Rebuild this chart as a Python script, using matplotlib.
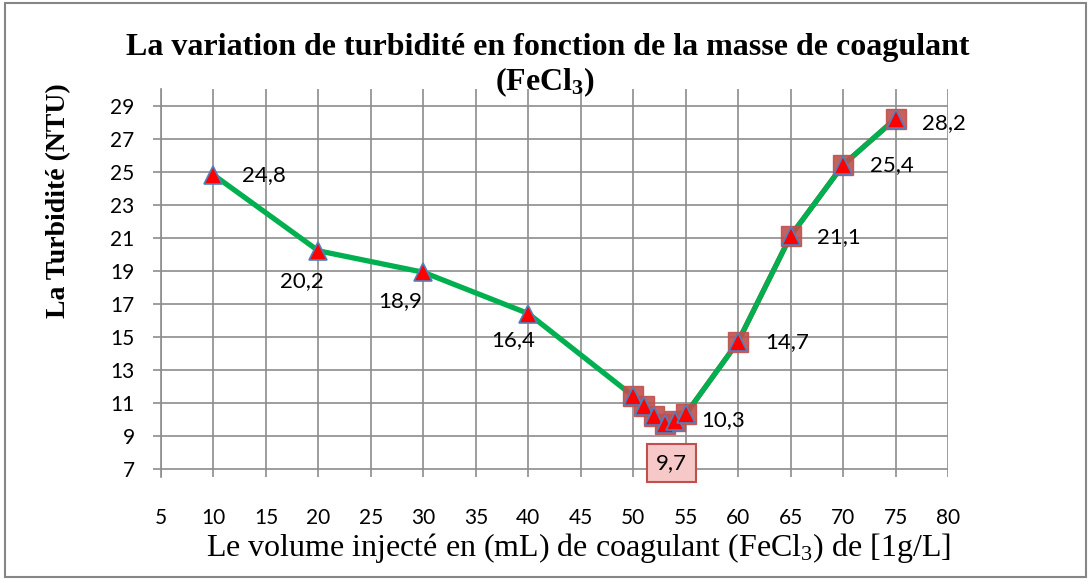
import matplotlib
matplotlib.use('Agg')
from matplotlib import pyplot as plt
from matplotlib.patches import Rectangle

# donnees
volume = [10, 20, 30, 40, 50, 51, 52, 53, 54, 55, 60, 65, 70, 75]
turbidite = [24.8, 20.2, 18.9, 16.4, 11.4, 10.8, 10.2, 9.7, 9.9, 10.3, 14.7, 21.1, 25.4, 28.2]
volume2 = [50, 51, 52, 53, 54, 55, 60, 65, 70, 75]
turbidite2 = [11.4, 10.8, 10.2, 9.7, 9.9, 10.3, 14.7, 21.1, 25.4, 28.2]

# etiquettes affichees : (indice, decalage en points)
etiquettes = {0: (36, 0), 1: (-12, -22), 2: (-17, -21), 3: (-11, -19),
              9: (27, -4), 10: (35, 0), 11: (35, -1), 12: (35, 0), 13: (35, -3)}

plt.rcParams['mathtext.default'] = 'regular'
chiffres = 'Lato'
serif = 'Liberation Serif'
gris = '#8c8c8c'

fig = plt.figure(figsize=(10.91, 5.8), dpi=100)
ax = fig.add_axes([161 / 1091, 1 - 477 / 580, (948 - 161) / 1091, (477 - 89) / 580])

ax.plot(volume2, turbidite2, color='#ff0000', lw=3.6, zorder=2)
ax.plot(volume, turbidite, color='#00b050', lw=3.8, zorder=3)
ax.plot(volume2, turbidite2, ls='none', marker='s', ms=14, mfc='#c0504d', mec='#c0504d',
        alpha=0.9, zorder=4)
ax.plot(volume, turbidite, ls='none', marker='^', ms=13.5, mfc='#ff0000', mec='#4f81bd',
        mew=1.2, zorder=5)

for i, (dx, dy) in etiquettes.items():
    ax.annotate(str(turbidite[i]).replace('.', ','), (volume[i], turbidite[i]),
                xytext=(dx, dy), textcoords='offset points', ha='center', va='center',
                fontsize=16, family=chiffres, zorder=6)

# le minimum dans un cadre
ax.annotate('9,7', (volume[7], turbidite[7]), xytext=(5, -28), textcoords='offset points',
            ha='center', va='center', fontsize=16, family=chiffres, zorder=7,
            bbox=dict(boxstyle='square,pad=0.42', fc='#f6c9c8', ec='#c0504d', lw=1.5))

ax.set_xlim(5, 80)
ax.set_ylim(6.5, 30)
ax.set_xticks(range(5, 81, 5))
ax.set_yticks(range(7, 30, 2))
ax.grid(True, color=gris, lw=1.2)
ax.set_axisbelow(True)
for s in ['top', 'right', 'bottom']:
    ax.spines[s].set_visible(False)
ax.spines['left'].set_color(gris)
ax.spines['left'].set_linewidth(1.2)
ax.tick_params(axis='y', length=6, width=1.2, color=gris, pad=13, labelsize=15)
ax.tick_params(axis='x', length=0, pad=22, labelsize=15)
for lab in ax.get_xticklabels() + ax.get_yticklabels():
    lab.set_family(chiffres)

fig.text(548 / 1091, 1 - 48 / 580, 'La variation de turbidité en fonction de la masse de coagulant',
         ha='center', va='center', fontsize=23, fontweight='bold', family=serif)
fig.text(545 / 1091, 1 - 82 / 580, '(FeCl$_3$)', ha='center', va='center', fontsize=23,
         fontweight='bold', family=serif)
fig.text(59 / 1091, 1 - 201 / 580, 'La Turbidité (NTU)', rotation=90, ha='center', va='center',
         fontsize=20, fontweight='bold', family=serif)
fig.text(578 / 1091, 1 - 548 / 580, 'Le volume injecté en (mL) de coagulant (FeCl$_3$) de [1g/L]',
         ha='center', va='center', fontsize=23, family=serif)

fig.patches.append(Rectangle((5 / 1091, 3 / 580), 1081 / 1091, 574 / 580, transform=fig.transFigure,
                             fill=False, ec='#868686', lw=1.5))

plt.savefig('out.png', dpi=100)
